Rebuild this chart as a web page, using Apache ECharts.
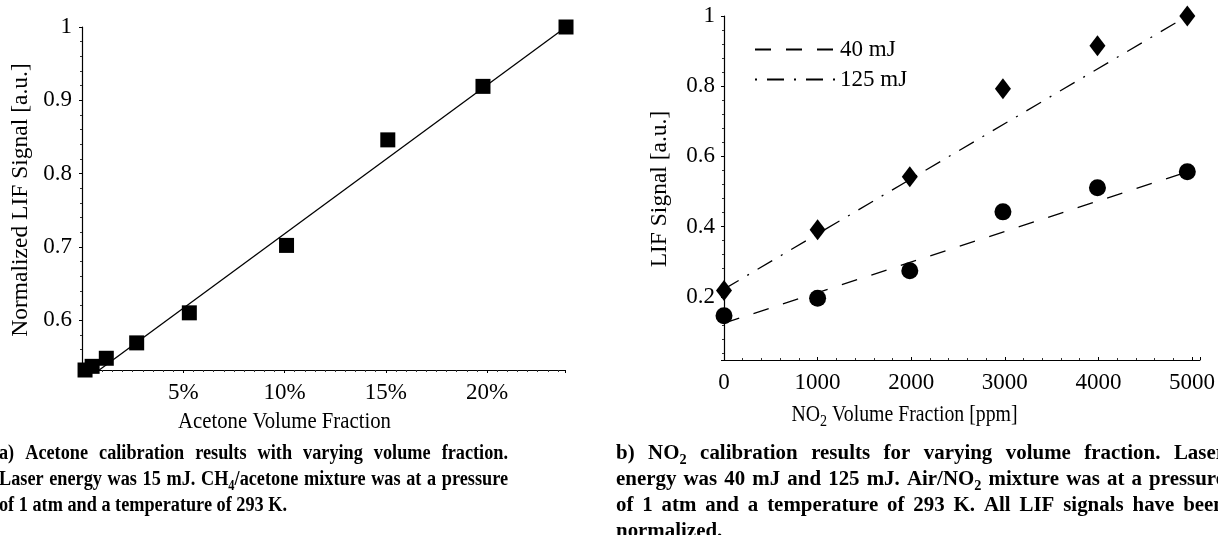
<!DOCTYPE html>
<html><head><meta charset="utf-8">
<script src="https://cdn.jsdelivr.net/npm/echarts@6/dist/echarts.min.js"></script>
<style>html,body{margin:0;padding:0;background:#fff;overflow:hidden}#c{width:1218px;height:535px}</style>
</head><body><div id="c"></div>
<script>
// ---- data ----
const acetoneFraction = [0.15, 0.5, 1.2, 2.7, 5.3, 10.1, 15.1, 19.8, 23.9];   // %
const acetoneSignal   = [0.532, 0.537, 0.548, 0.569, 0.610, 0.702, 0.846, 0.919, 1.0];
const acetoneFitX = [0.85, 23.9];
const acetoneFitY = [0.532, 1.0];

const no2Fraction  = [0, 1000, 1985, 2980, 3990, 4950];   // ppm
const no2Signal40  = [0.146, 0.196, 0.274, 0.442, 0.511, 0.556];
const no2Signal125 = [0.218, 0.391, 0.542, 0.793, 0.915, 1.0];
const no2Fit40X  = [0, 4950];
const no2Fit40Y  = [0.125, 0.556];
const no2Fit125X = [0, 4950];
const no2Fit125Y = [0.222, 1.0];

const legendNames = ['40 mJ', '125 mJ'];
const captionA = [
  {text: 'a) Acetone calibration results with varying volume fraction.', justify: true},
  {text: 'Laser energy was 15 mJ. CH_4/acetone mixture was at a pressure', justify: true},
  {text: 'of 1 atm and a temperature of 293 K.', justify: false}
];
const captionB = [
  {text: 'b) NO_2 calibration results for varying volume fraction.  Laser', justify: true},
  {text: 'energy was 40 mJ and 125 mJ. Air/NO_2 mixture was at a pressure', justify: true},
  {text: 'of 1 atm and a temperature of 293 K. All LIF signals have been', justify: true},
  {text: 'normalized.', justify: false}
];

// ---- helpers ----
const SERIF = 'Liberation Serif';
const zip = (a, b) => a.map((v, i) => [v, b[i]]);
const BLACK = '#000';

const CAP_SIZE = 20.5, CAP_SUB = 14, CAP_LH = 26;
const mctx = document.createElement('canvas').getContext('2d');
function parts(word) {
  const out = [];
  const re = /_(\d)/g; let last = 0, m;
  while ((m = re.exec(word))) {
    if (m.index > last) out.push({t: word.slice(last, m.index), sub: false});
    out.push({t: m[1], sub: true});
    last = m.index + m[0].length;
  }
  if (last < word.length) out.push({t: word.slice(last), sub: false});
  return out;
}
function measureWord(word) {
  let w = 0;
  parts(word).forEach(p => {
    mctx.font = 'bold ' + (p.sub ? CAP_SUB : CAP_SIZE) + 'px "' + SERIF + '"';
    w += mctx.measureText(p.t).width;
  });
  return w;
}
function richStr(word) {
  return parts(word).map(p => (p.sub ? '{s|' : '{b|') + p.t + '}').join('');
}
const capRich = {
  b: {fontSize: CAP_SIZE, fontFamily: SERIF, fontWeight: 'bold', lineHeight: CAP_LH, verticalAlign: 'middle', fill: BLACK, color: BLACK},
  s: {fontSize: CAP_SUB, fontFamily: SERIF, fontWeight: 'bold', lineHeight: 15, verticalAlign: 'bottom', fill: BLACK, color: BLACK}
};
function layoutCaption(lines, x0, x1, y0, sx) {
  const els = [];
  mctx.font = 'bold ' + CAP_SIZE + 'px "' + SERIF + '"';
  const spaceW = mctx.measureText(' ').width * sx;
  lines.forEach((ln, i) => {
    const words = ln.text.split(' ').filter(w => w.length);
    const widths = words.map(w => measureWord(w) * sx);
    const total = widths.reduce((a, b) => a + b, 0);
    const gap = (ln.justify && words.length > 1) ? (x1 - x0 - total) / (words.length - 1) : spaceW;
    let x = x0;
    words.forEach((w, j) => {
      els.push({
        type: 'text', x: x, y: y0 + i * CAP_LH, scaleX: sx, silent: true,
        style: {text: richStr(w), rich: capRich, align: 'left', verticalAlign: 'middle', fill: BLACK}
      });
      x += widths[j] + gap;
    });
  });
  return els;
}

const tickLabel = {fontFamily: SERIF, fontSize: 23, color: BLACK};
function xAxisCfg(grid, min, max, interval, minorSplit, fmt, tickInside) {
  return {
    gridIndex: grid, type: 'value', min: min, max: max, interval: interval,
    axisLine: {onZero: false, lineStyle: {color: BLACK, width: 1.2}},
    axisTick: {inside: tickInside, length: 3, lineStyle: {color: BLACK, width: 1}},
    minorTick: {show: true, splitNumber: minorSplit, length: 2, lineStyle: {color: '#333', width: 1}},
    splitLine: {show: false}, minorSplitLine: {show: false},
    axisLabel: Object.assign({margin: 11, showMaxLabel: false, formatter: fmt}, tickLabel)
  };
}
function yAxisCfg(grid, min, max, step, margin) {
  return {
    gridIndex: grid, type: 'value', min: min, max: max, splitNumber: 5,
    minInterval: step, maxInterval: step,
    axisLine: {onZero: false, lineStyle: {color: BLACK, width: 1.2}},
    axisTick: {inside: false, length: 3, lineStyle: {color: BLACK, width: 1}},
    minorTick: {show: true, splitNumber: 5, length: 2, lineStyle: {color: '#333', width: 1}},
    splitLine: {show: false}, minorSplitLine: {show: false},
    axisLabel: Object.assign({margin: margin, showMinLabel: false, formatter: v => {
      const k = v / step;
      return Math.abs(k - Math.round(k)) < 1e-6 ? String(+v.toFixed(1)) : '';
    }}, tickLabel)
  };
}
const legendText = {fontFamily: SERIF, fontSize: 23, color: BLACK};

const option = {
  animation: false,
  backgroundColor: '#fff',
  grid: [
    {left: 82, top: 27, width: 483, height: 343},
    {left: 724, top: 16, width: 476, height: 344}
  ],
  xAxis: [
    xAxisCfg(0, 0, 23.85, 5, 10, v => (v > 0.01 && Math.abs(v / 5 - Math.round(v / 5)) < 1e-6) ? Math.round(v) + '%' : '', false),
    xAxisCfg(1, 0, 5085, 1000, 5, v => (Math.abs(v / 1000 - Math.round(v / 1000)) < 1e-6) ? String(Math.round(v)) : '', true)
  ],
  yAxis: [
    yAxisCfg(0, 0.532, 1, 0.1, 10),
    yAxisCfg(1, 0.02, 1, 0.2, 9)
  ],
  legend: [
    {data: [legendNames[0]], left: 754, top: 38, padding: 0, itemWidth: 80, itemHeight: 14, selectedMode: false,
     itemStyle: {color: 'transparent', borderWidth: 0}, textStyle: legendText},
    {data: [legendNames[1]], left: 754, top: 68, padding: 0, itemWidth: 80, itemHeight: 14, selectedMode: false,
     itemStyle: {color: 'transparent', borderWidth: 0}, lineStyle: {dashOffset: 27}, textStyle: legendText}
  ],
  series: [
    {type: 'line', name: 'fit', xAxisIndex: 0, yAxisIndex: 0, data: zip(acetoneFitX, acetoneFitY),
     symbol: 'none', lineStyle: {color: BLACK, width: 1.3}, z: 2, silent: true},
    {type: 'scatter', name: 'acetone', xAxisIndex: 0, yAxisIndex: 0, data: zip(acetoneFraction, acetoneSignal),
     symbol: 'rect', symbolSize: 15, itemStyle: {color: BLACK, opacity: 1}, clip: false, z: 3, silent: true},
    {type: 'line', name: legendNames[0], xAxisIndex: 1, yAxisIndex: 1, data: zip(no2Fit40X, no2Fit40Y),
     symbol: 'none', lineStyle: {color: BLACK, width: 1.3, type: [16, 15]}, itemStyle: {color: BLACK}, z: 2, silent: true},
    {type: 'line', name: legendNames[1], xAxisIndex: 1, yAxisIndex: 1, data: zip(no2Fit125X, no2Fit125Y),
     symbol: 'none', lineStyle: {color: BLACK, width: 1.3, type: [17, 10, 2, 10]}, itemStyle: {color: BLACK}, z: 2, silent: true},
    {type: 'scatter', name: 'circles', xAxisIndex: 1, yAxisIndex: 1, data: zip(no2Fraction, no2Signal40),
     symbol: 'circle', symbolSize: 17, itemStyle: {color: BLACK, opacity: 1}, clip: false, z: 3, silent: true},
    {type: 'scatter', name: 'diamonds', xAxisIndex: 1, yAxisIndex: 1, data: zip(no2Fraction, no2Signal125),
     symbol: 'diamond', symbolSize: [16, 21], itemStyle: {color: BLACK, opacity: 1}, clip: false, z: 3, silent: true}
  ],
  graphic: [
    {type: 'text', x: 21, y: 200, rotation: Math.PI / 2, silent: true,
     style: {text: 'Normalized LIF Signal [a.u.]', fontFamily: SERIF, fontSize: 23.5, fill: BLACK, align: 'center', verticalAlign: 'middle'}},
    {type: 'text', x: 660, y: 189, rotation: Math.PI / 2, silent: true,
     style: {text: 'LIF Signal [a.u.]', fontFamily: SERIF, fontSize: 23.5, fill: BLACK, align: 'center', verticalAlign: 'middle'}},
    {type: 'text', x: 284.5, y: 422, scaleX: 0.88, silent: true,
     style: {text: 'Acetone Volume Fraction', fontFamily: SERIF, fontSize: 23.6, fill: BLACK, align: 'center', verticalAlign: 'middle'}},
    {type: 'text', x: 904.5, y: 415, scaleX: 0.88, silent: true,
     style: {text: '{n|NO}{s|2}{n| Volume Fraction [ppm]}', align: 'center', verticalAlign: 'middle',
       rich: {n: {fontFamily: SERIF, fontSize: 22.5, lineHeight: 30, verticalAlign: 'middle', fill: BLACK, color: BLACK},
              s: {fontFamily: SERIF, fontSize: 16, lineHeight: 16, verticalAlign: 'bottom', fill: BLACK, color: BLACK}}}}
  ].concat(layoutCaption(captionA, -1, 508, 454, 0.89)).concat(layoutCaption(captionB, 616, 1225, 454, 1.02))
};

const chart = echarts.init(document.getElementById('c'), null, {renderer: 'canvas'});
chart.setOption(option);
</script>
</body></html>
